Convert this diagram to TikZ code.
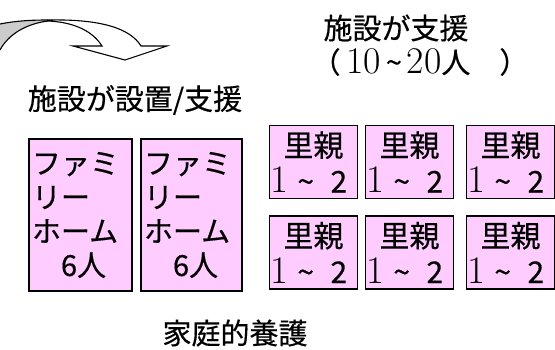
\documentclass[tikz,border=0pt]{standalone}
\usepackage{fontspec}
\setmainfont{Noto Sans CJK JP}[FakeBold=0.4]
\newfontfamily\lmr{Latin Modern Roman}[Scale=1.3]
\definecolor{boxpink}{HTML}{FFCCFF}
\tikzset{
  homebox/.style={draw=black, line width=1.3pt, fill=boxpink, minimum height=152pt, inner xsep=3pt, inner ysep=0pt, align=left, font=\fontsize{29}{34}\selectfont},
  fosterbox/.style={draw=black, line width=1.3pt, fill=boxpink, minimum width=88pt, minimum height=73pt, inner sep=0pt, align=center, font=\fontsize{30}{36}\selectfont},
  title/.style={font=\fontsize{29}{34}\selectfont, inner sep=0pt},
}
\begin{document}
\begin{tikzpicture}[x=1pt,y=-1pt]
\useasboundingbox (0,0) rectangle (555,350);
% curved arrow
\fill[gray!40] (0,24) .. controls (15,21) and (30,20) .. (48,20) -- (48,21) .. controls (25,24) and (8,35) .. (0,50) -- cycle;
\draw[line width=1.1pt] (0,24) .. controls (15,21) and (30,20) .. (48,20);
\draw[line width=1.1pt] (48,21) .. controls (25,24) and (8,35) .. (0,50);
\draw[line width=1.1pt, fill=white, line join=miter] (48,20) .. controls (100,19) and (130,28) .. (141,46) -- (167,46) -- (125,60) -- (73,46) -- (102,46) .. controls (92,30) and (72,22) .. (48,21) -- cycle;
% titles
\node[title] (t1) at (396,28) {施設が支援};
\node[title] (t2) at (420,62) {（\hspace{0.2em}{\lmr 10}\,\char"7E\,{\lmr 20}人\hspace{1em}）};
\node[title] (t3) at (135,100) {施設が設置/支援};
\node[title] (t4) at (235,333) {家庭的養護};
% family homes
\node[homebox, text width=97pt] (h1) at (80.5,215) {ファミ\\リー\\ホーム\\\hspace*{1em}6人};
\node[homebox, text width=95pt] (h2) at (191.5,215) {ファミ\\リー\\ホーム\\\hspace*{1em}6人};
% foster parents
\foreach \n/\x/\y in {f1/313.5/162, f2/409.5/162, f3/510.5/162, f4/313.5/252.5, f5/409.5/252.5, f6/510.5/252.5}{
  \node[fosterbox] (\n) at (\x,\y) {里親\\\makebox[86pt][l]{{\lmr 1}\hspace{0.3em}\char"7E\hspace{0.55em}2}};
}
\end{tikzpicture}
\end{document}
